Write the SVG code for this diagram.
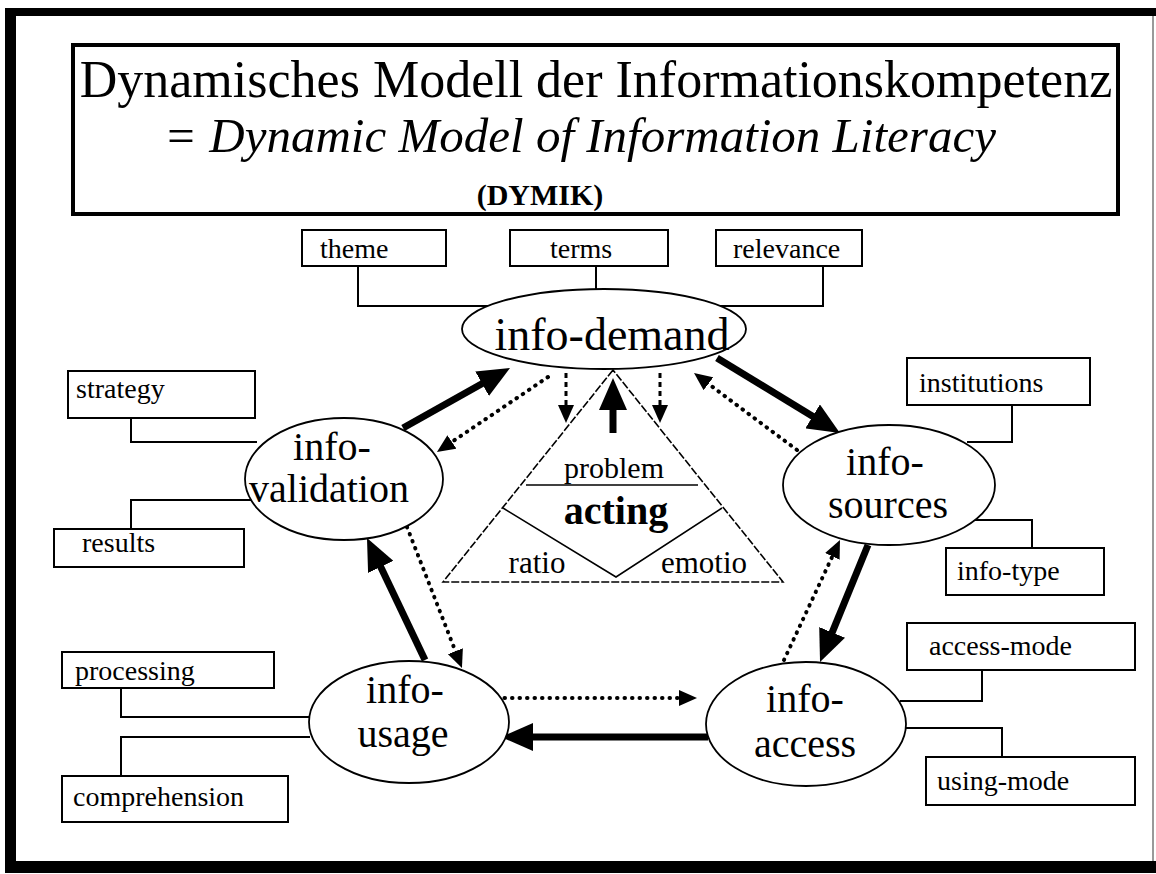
<svg xmlns="http://www.w3.org/2000/svg" width="1156" height="874" viewBox="0 0 1156 874">
<defs>
<style>
text{font-family:"Liberation Serif","Times New Roman",serif;fill:#000}
.box{fill:#fff;stroke:#000;stroke-width:2}
.lbl{font-size:28px}
.node{fill:#fff;stroke:#000;stroke-width:1.8}
.nl{font-size:40px;text-anchor:middle}
.conn{fill:none;stroke:#000;stroke-width:2}
.thick{fill:none;stroke:#000;stroke-width:7;marker-end:url(#hb)}
.dot{fill:none;stroke:#000;stroke-width:4;stroke-dasharray:0.5 7;stroke-linecap:round;marker-end:url(#hs)}
.dash{fill:none;stroke:#000;stroke-width:3;stroke-dasharray:5 4;marker-end:url(#hs)}
.tri{fill:none;stroke:#000;stroke-width:1.6;stroke-dasharray:8 2}
</style>
<marker id="hb" markerUnits="userSpaceOnUse" markerWidth="32" markerHeight="28" refX="11" refY="14" orient="auto">
<path d="M0,0 L32,14 L0,28 z" fill="#000"/>
</marker>
<marker id="hs" markerUnits="userSpaceOnUse" markerWidth="18" markerHeight="16" refX="6" refY="8" orient="auto">
<path d="M0,0 L18,8 L0,16 z" fill="#000"/>
</marker>
</defs>
<rect width="1156" height="874" fill="#fff"/>
<g id="frame">
<line x1="5" y1="12" x2="1156" y2="12" stroke="#000" stroke-width="8"/>
<line x1="10.5" y1="8" x2="10.5" y2="873" stroke="#000" stroke-width="11"/>
<line x1="5" y1="867" x2="1156" y2="867" stroke="#000" stroke-width="12"/>
<line x1="1153" y1="16" x2="1153" y2="861" stroke="#777" stroke-width="1.5"/>
</g>
<g id="title">
<rect x="73" y="45" width="1045" height="169" fill="#fff" stroke="#000" stroke-width="4"/>
<text x="596" y="97" font-size="52" text-anchor="middle">Dynamisches Modell der Informationskompetenz</text>
<text x="164" y="152" font-size="49" font-style="italic">= Dynamic Model of Information Literacy</text>
<text x="540" y="205" font-size="30" font-weight="bold" text-anchor="middle">(DYMIK)</text>
</g>
<g id="connectors">
<polyline class="conn" points="358,266 358,306 492,306"/>
<line class="conn" x1="596" y1="266" x2="596" y2="290"/>
<polyline class="conn" points="823,266 823,306 716,306"/>
<polyline class="conn" points="131,418 131,442 257,442"/>
<polyline class="conn" points="131,529 131,500 253,500"/>
<polyline class="conn" points="121,688 121,717 310,717"/>
<polyline class="conn" points="310,737 121,737 121,776"/>
<polyline class="conn" points="1012,405 1012,442 967,442"/>
<polyline class="conn" points="973,520 1032,520 1032,548"/>
<polyline class="conn" points="900,701 982,701 982,670"/>
<polyline class="conn" points="906,728 1002,728 1002,757"/>
<line class="thick" x1="403" y1="428" x2="491.7" y2="378.3"/>
<line class="thick" x1="717" y1="358" x2="822" y2="422.1"/>
<line class="thick" x1="868" y1="545" x2="828" y2="642.6"/>
<line class="thick" x1="708" y1="737" x2="522" y2="737"/>
<line class="thick" x1="425" y1="660" x2="376" y2="557"/>
<line class="thick" x1="613" y1="433" x2="613" y2="399"/>
<line class="dot" x1="548" y1="377" x2="446.9" y2="445.3"/>
<line class="dot" x1="797" y1="450" x2="703.6" y2="380.2"/>
<line class="dot" x1="784" y1="660" x2="834.9" y2="550.9"/>
<line class="dot" x1="497" y1="698" x2="685" y2="698"/>
<line class="dot" x1="407" y1="527" x2="457.6" y2="656.8"/>
<line class="dash" x1="566" y1="373" x2="566" y2="411"/>
<line class="dash" x1="660" y1="373" x2="660" y2="411"/>
</g>
<g id="theme"><rect class="box" x="302" y="230" width="144" height="36"/><text class="lbl" x="320" y="258">theme</text></g>
<g id="terms"><rect class="box" x="510" y="230" width="158" height="36"/><text class="lbl" x="550" y="258">terms</text></g>
<g id="relevance"><rect class="box" x="716" y="230" width="146" height="36"/><text class="lbl" x="733" y="258">relevance</text></g>
<g id="strategy"><rect class="box" x="68" y="371" width="187" height="47"/><text class="lbl" x="76" y="398">strategy</text></g>
<g id="results"><rect class="box" x="54" y="529" width="190" height="38"/><text class="lbl" x="82" y="552">results</text></g>
<g id="processing"><rect class="box" x="62" y="652" width="212" height="36"/><text class="lbl" x="75" y="680">processing</text></g>
<g id="comprehension"><rect class="box" x="62" y="776" width="226" height="46"/><text class="lbl" x="73" y="806">comprehension</text></g>
<g id="institutions"><rect class="box" x="907" y="358" width="183" height="47"/><text class="lbl" x="919" y="392">institutions</text></g>
<g id="info-type"><rect class="box" x="946" y="548" width="158" height="47"/><text class="lbl" x="957" y="580">info-type</text></g>
<g id="access-mode"><rect class="box" x="907" y="623" width="228" height="47"/><text class="lbl" x="929" y="655">access-mode</text></g>
<g id="using-mode"><rect class="box" x="926" y="757" width="209" height="48"/><text class="lbl" x="937" y="790">using-mode</text></g>
<g id="acting">
<polygon class="tri" points="613,370 443,582 783,582"/>
<polyline fill="none" stroke="#000" stroke-width="1.5" points="503,508 616,577 722,508"/>
<line x1="526" y1="485" x2="698" y2="485" stroke="#000" stroke-width="1.5"/>
<text x="614" y="478" font-size="30" text-anchor="middle">problem</text>
<text x="616" y="524" font-size="40" font-weight="bold" text-anchor="middle">acting</text>
<text x="537" y="573" font-size="31" text-anchor="middle">ratio</text>
<text x="704" y="573" font-size="31" text-anchor="middle">emotio</text>
</g>
<g id="info-demand"><ellipse class="node" cx="604" cy="329" rx="142" ry="40"/><text class="nl" x="612" y="350" font-size="46" style="font-size:46px">info-demand</text></g>
<g id="info-validation"><ellipse class="node" cx="344" cy="479" rx="99" ry="61"/><text class="nl" x="332" y="460">info-</text><text class="nl" x="329" y="502">validation</text></g>
<g id="info-sources"><ellipse class="node" cx="889" cy="485" rx="106" ry="60"/><text class="nl" x="885" y="475">info-</text><text class="nl" x="888" y="518">sources</text></g>
<g id="info-usage"><ellipse class="node" cx="409" cy="722" rx="100" ry="61"/><text class="nl" x="405" y="703">info-</text><text class="nl" x="403" y="747">usage</text></g>
<g id="info-access"><ellipse class="node" cx="806" cy="724" rx="100" ry="62"/><text class="nl" x="805" y="712">info-</text><text class="nl" x="805" y="757">access</text></g>
</svg>
